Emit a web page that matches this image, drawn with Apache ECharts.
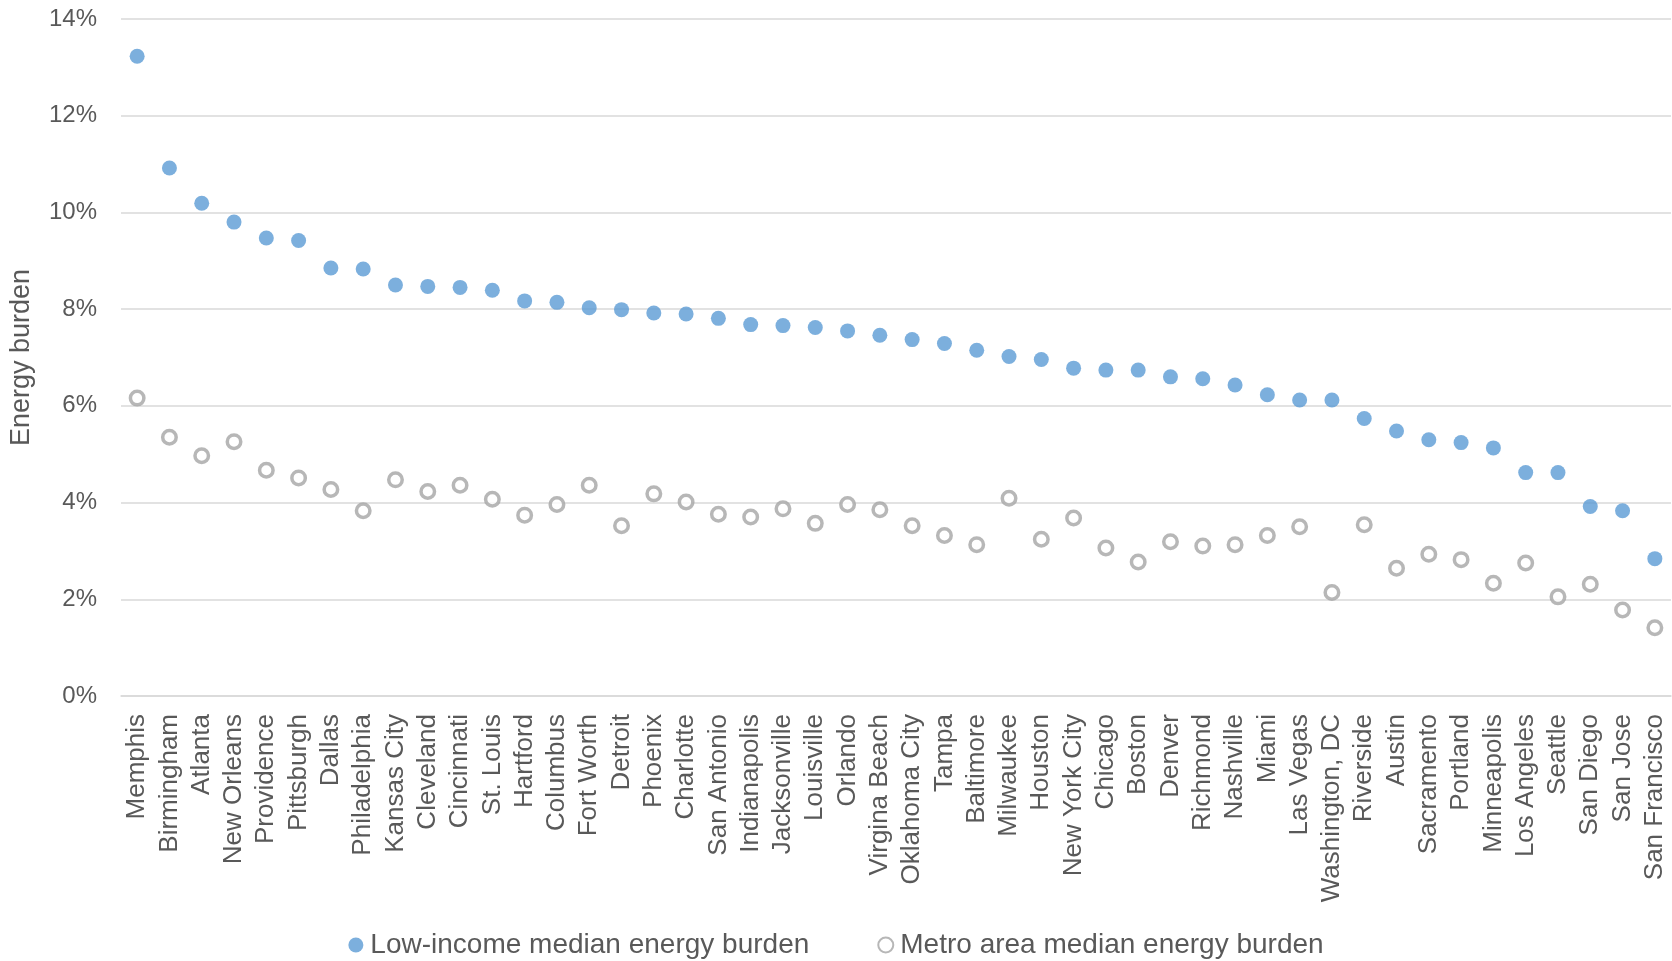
<!DOCTYPE html>
<html>
<head>
<meta charset="utf-8">
<script src="https://cdn.jsdelivr.net/npm/echarts@6/dist/echarts.min.js"></script>
<style>html,body{margin:0;padding:0;background:#fff;}#c{width:1672px;height:961px;}</style>
</head>
<body>
<div id="c"></div>
<script>
const cities = ["Memphis","Birmingham","Atlanta","New Orleans","Providence","Pittsburgh","Dallas","Philadelphia","Kansas City","Cleveland","Cincinnati","St. Louis","Hartford","Columbus","Fort Worth","Detroit","Phoenix","Charlotte","San Antonio","Indianapolis","Jacksonville","Louisville","Orlando","Virgina Beach","Oklahoma City","Tampa","Baltimore","Milwaukee","Houston","New York City","Chicago","Boston","Denver","Richmond","Nashville","Miami","Las Vegas","Washington, DC","Riverside","Austin","Sacramento","Portland","Minneapolis","Los Angeles","Seattle","San Diego","San Jose","San Francisco"];
const lowIncome = [13.23,10.92,10.19,9.80,9.47,9.42,8.85,8.83,8.50,8.47,8.45,8.39,8.17,8.14,8.03,7.99,7.92,7.90,7.81,7.68,7.66,7.62,7.55,7.46,7.37,7.29,7.15,7.02,6.96,6.78,6.74,6.74,6.60,6.56,6.43,6.23,6.12,6.12,5.74,5.48,5.30,5.24,5.13,4.62,4.62,3.92,3.83,2.84];
const metro = [6.16,5.35,4.97,5.26,4.67,4.51,4.27,3.83,4.47,4.23,4.36,4.07,3.74,3.96,4.36,3.52,4.18,4.01,3.76,3.70,3.87,3.57,3.96,3.85,3.52,3.32,3.13,4.09,3.24,3.68,3.06,2.77,3.19,3.10,3.13,3.32,3.50,2.14,3.54,2.64,2.93,2.82,2.33,2.75,2.05,2.31,1.78,1.41];
const seriesNames = ["Low-income median energy burden","Metro area median energy burden"];
const yTicks = {min:0, max:14, interval:2};

const chart = echarts.init(document.getElementById('c'));
const font = "'Liberation Sans', Arial, sans-serif";
chart.setOption({
  animation:false,
  backgroundColor:'#fff',
  grid:{left:120, right:1, top:19, bottom:265, containLabel:false},
  legend:{
    top:926, left:'center', itemGap:68, itemWidth:15, itemHeight:15,
    textStyle:{fontFamily:font, fontSize:28, color:'#595959', padding:[0,0,0,2]},
    data:seriesNames.map(n=>({name:n, icon:'circle'}))
  },
  xAxis:{
    type:'category', data:cities, boundaryGap:true,
    axisTick:{show:false},
    axisLine:{lineStyle:{color:'#d9d9d9', width:1.5}},
    axisLabel:{rotate:90, interval:0, fontFamily:font, fontSize:26, color:'#595959', margin:18}
  },
  yAxis:{
    type:'value', min:yTicks.min, max:yTicks.max, interval:yTicks.interval,
    name:'Energy burden', nameLocation:'middle', nameGap:86, nameRotate:90,
    nameTextStyle:{fontFamily:font, fontSize:27, color:'#595959'},
    axisLine:{show:false}, axisTick:{show:false},
    splitLine:{lineStyle:{color:'#d9d9d9', width:1.5}},
    axisLabel:{formatter:v=>v+'%', fontFamily:font, fontSize:24, color:'#595959', margin:24}
  },
  series:[
    {name:seriesNames[0], type:'scatter', data:lowIncome, symbol:'circle', symbolSize:15,
     itemStyle:{color:'#5B9BD5'}},
    {name:seriesNames[1], type:'scatter', data:metro, symbol:'circle', symbolSize:13.5,
     itemStyle:{color:'#fff', borderColor:'#A5A5A5', borderWidth:3.5}}
  ]
});
</script>
</body>
</html>
